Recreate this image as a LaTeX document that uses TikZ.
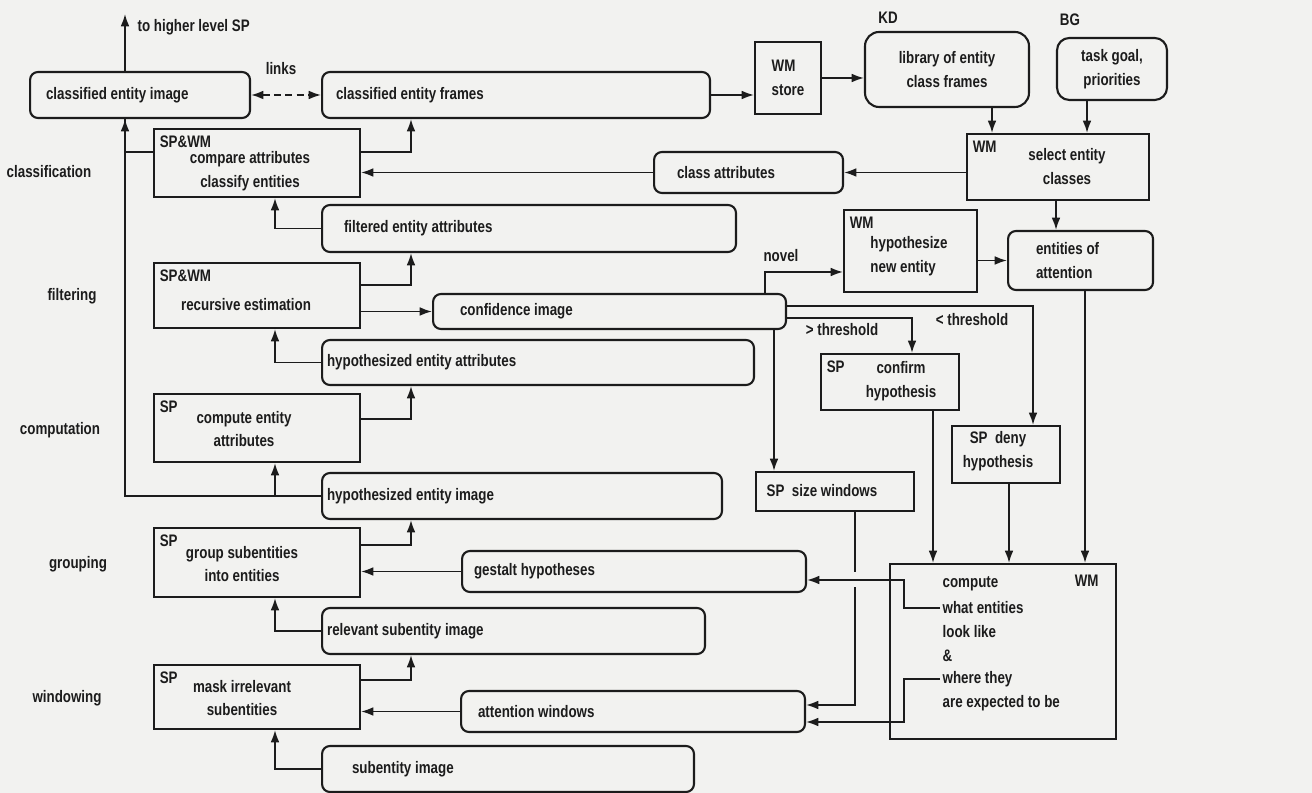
\documentclass[tikz,border=0pt]{standalone}
\usepackage{fontspec}
\setmainfont{Liberation Sans}[FakeStretch=0.8]
\usetikzlibrary{arrows.meta}
\definecolor{paper}{RGB}{242,242,240}
\definecolor{ink}{RGB}{28,28,28}

\begin{document}
\begin{tikzpicture}[x=0.02cm, y=-0.02cm, color=ink, line width=1pt, >={Latex[length=7pt,width=5pt]}]
	\fill[paper] (0,0) rectangle (1312,793);
	\useasboundingbox (0,0) rectangle (1312,793);
	\begin{scope}
	\tikzstyle{every node}=[align=center, inner sep=1pt, font=\fontsize{9.5pt}{13.6pt}\selectfont\bfseries]
	\tikzstyle{rbox}=[draw, line width=1.2pt, rounded corners=4.5pt, anchor=west, align=flush left, minimum height=0.92cm]
	\tikzstyle{pbox}=[draw, line width=1.2pt]
	\tikzstyle{tag}=[anchor=north west, inner xsep=3.4pt, inner ysep=4.2pt]
		\node[rbox, inner xsep=0.32cm, text width=3.76cm] (cimg) at (29,95) {classified entity image};
		\node[rbox, inner xsep=0.28cm, text width=7.2cm] (cfrm) at (321,95) {classified entity frames};
		\node[rbox, anchor=center, align=center, rounded corners=8pt, minimum width=3.28cm, minimum height=1.5cm] (lib) at (947,69.5) {library of entity\\class frames};
		\node[rbox, anchor=center, align=center, rounded corners=7pt, minimum width=2.2cm, minimum height=1.24cm] (task) at (1112,69) {task goal,\\priorities};
		\node[rbox, inner xsep=0.46cm, text width=2.86cm, minimum height=0.82cm] (catt) at (653,172.5) {class attributes};
		\node[rbox, inner xsep=0.44cm, text width=7.4cm, minimum height=0.94cm] (filt) at (321,228.5) {filtered entity attributes};
		\node[rbox, inner xsep=0.54cm, text width=5.98cm, minimum height=0.7cm] (conf) at (432,311.5) {confidence image};
		\node[rbox, inner xsep=0.56cm, text width=1.78cm, minimum height=1.18cm] (eatt) at (1007,260.5) {entities of\\attention};
		\node[rbox, inner xsep=0.1cm, text width=8.44cm, minimum height=0.9cm] (hatt) at (321,362.5) {hypothesized entity attributes};
		\node[rbox, inner xsep=0.1cm, text width=7.8cm] (himg) at (321,496) {hypothesized entity image};
		\node[rbox, inner xsep=0.24cm, text width=6.4cm, minimum height=0.82cm] (gest) at (461,571.5) {gestalt hypotheses};
		\node[rbox, inner xsep=0.1cm, text width=7.46cm] (rimg) at (321,631) {relevant subentity image};
		\node[rbox, inner xsep=0.34cm, text width=6.2cm, minimum height=0.82cm] (attw) at (460,711.5) {attention windows};
		\node[rbox, inner xsep=0.6cm, text width=6.24cm] (simg) at (321,769) {subentity image};

		\node[pbox, align=left, minimum width=1.32cm, minimum height=1.44cm] (store) at (788,78) {WM\\store};
		\node[pbox, minimum width=4.12cm, minimum height=1.36cm] (cmp) at (257,163) {};
		\node[tag] (cmptag) at (cmp.north west) {SP\&WM};
		\node (cmptxt) at (250,171) {compare attributes\\classify entities};
		\node[pbox, minimum width=3.64cm, minimum height=1.32cm] (sel) at (1058,167) {};
		\node[tag] (seltag) at (sel.north west) {WM};
		\node (seltxt) at (1067,166.5) {select entity\\classes};
		\node[pbox, minimum width=2.66cm, minimum height=1.64cm] (hyp) at (910.5,251) {};
		\node[tag] (hyptag) at (hyp.north west) {WM};
		\node[align=left] (hyptxt) at (909,256) {hypothesize\\new entity};
		\node[pbox, minimum width=4.12cm, minimum height=1.3cm] (rec) at (257,295.5) {};
		\node[tag] (rectag) at (rec.north west) {SP\&WM};
		\node (rectxt) at (246,305) {recursive estimation};
		\node[pbox, minimum width=2.76cm, minimum height=1.12cm] (cnf) at (890,382) {};
		\node[tag] (cnftag) at (cnf.north west) {SP};
		\node (cnftxt) at (901,381) {confirm\\hypothesis};
		\node[pbox, minimum width=4.12cm, minimum height=1.36cm] (comp) at (257,428) {};
		\node[tag] (comptag) at (comp.north west) {SP};
		\node (comptxt) at (244,429) {compute entity\\attributes};
		\node[pbox, minimum width=2.16cm, minimum height=1.14cm] (deny) at (1006,454.5) {};
		\node (denytxt) at (998,451) {SP~~deny\\hypothesis};
		\node[pbox, minimum width=3.16cm, minimum height=0.78cm] (size) at (835,491.5) {};
		\node (sizetxt) at (822,491) {SP~~size windows};
		\node[pbox, minimum width=4.12cm, minimum height=1.38cm] (grp) at (257,562.5) {};
		\node[tag] (grptag) at (grp.north west) {SP};
		\node (grptxt) at (242,564) {group subentities\\into entities};
		\node[pbox, minimum width=4.12cm, minimum height=1.28cm] (mask) at (257,697) {};
		\node[tag] (masktag) at (mask.north west) {SP};
		\node (masktxt) at (242,698) {mask irrelevant\\subentities};
		\node[pbox, minimum width=4.52cm, minimum height=3.5cm] (big) at (1003,651.5) {};
		\node[tag, anchor=north east, inner xsep=10pt, inner ysep=6.5pt] (bigtag) at (big.north east) {WM};
		\node[anchor=west] (bl1) at (940,584) {compute};
		\node[anchor=west] (bl2) at (940,608) {what entities};
		\node[anchor=west] (bl3) at (940,632) {look like};
		\node[anchor=west] (bl4) at (940,656) {\&};
		\node[anchor=west] (bl5) at (940,679) {where they};
		\node[anchor=west] (bl6) at (940,703) {are expected to be};

		\node[anchor=west] (hlsp) at (135,27) {to higher level SP};
		\node (lnk) at (281,69) {links};
		\node (kd) at (888,18) {KD};
		\node (bg) at (1070,20) {BG};
		\node (nov) at (781,256) {novel};
		\node (gt) at (842,330) {> threshold};
		\node (lt) at (972,320) {< threshold};
		\node (cls) at (49,172) {classification};
		\node (flt) at (72,296) {filtering};
		\node (cpt) at (60,430) {computation};
		\node (grpg) at (78,564) {grouping};
		\node (wnd) at (67,698) {windowing};

		\coordinate (up) at (125,14);
		\coordinate (xbus) at (125,0);
		\coordinate (xin) at (275,0);
		\coordinate (xup) at (411,0);
		\coordinate (xlib) at (992,0);
		\coordinate (xtask) at (1087,0);
		\coordinate (xeatt) at (1056,0);
		\coordinate (xnov) at (765,0);
		\coordinate (xgt) at (912,0);
		\coordinate (xlt) at (1033,0);
		\coordinate (xsz) at (774,0);
		\coordinate (xcnf) at (933,0);
		\coordinate (xdny) at (1009,0);
		\coordinate (xatt) at (1085,0);
		\coordinate (xsw) at (855,0);
		\coordinate (xwm) at (904,0);
		\coordinate (hin) at ([yshift=-0.42cm]hyp.west);
		\coordinate (gin) at ([yshift=-0.17cm]gest.east);
		\coordinate (ain) at ([yshift=-0.21cm]attw.east);
		\coordinate (sin) at ([yshift=0.13cm]attw.east);
		\coordinate (hop) at (gin -| xsw);

		\draw[->] (cimg.north -| up) -- (up);
		\draw[<->, dash pattern=on 4pt off 2.5pt] (cimg.east) -- (cfrm.west);
		\draw[->] (cfrm.east) -- (cfrm.east -| store.west);
		\draw[->] (store.east) -- (store.east -| lib.west);
		\draw[->] (lib.south -| xlib) -- (sel.north -| xlib);
		\draw[->] (task.south -| xtask) -- (sel.north -| xtask);
		\draw[->] (catt.east -| sel.west) -- (catt.east);
		\draw[->] (catt.west) -- (catt.west -| cmp.east);
		\draw[->] (sel.south -| xeatt) -- (eatt.north -| xeatt);
		\draw[->] (eatt.west -| hyp.east) -- (eatt.west);
		\draw[->] ([yshift=0.22cm]cmp.east) -| (cfrm.south -| xup);
		\draw ([yshift=0.22cm]cmp.west) -| (cimg.south -| xbus);
		\draw[->] (filt.west) -| (cmp.south -| xin);
		\draw[->] ([yshift=0.21cm]rec.east) -| (filt.south -| xup);
		\draw[->] (conf.west -| rec.east) -- (conf.west);
		\draw[->] (hatt.west) -| (rec.south -| xin);
		\draw[->] ([yshift=0.18cm]comp.east) -| (hatt.south -| xup);
		\draw[->] (himg.west) -| (comp.south -| xin);
		\draw[->] (himg.west) -| (cimg.south -| xbus);
		\draw[->] ([yshift=0.35cm]grp.east) -| (himg.south -| xup);
		\draw[->] (gest.west) -- (gest.west -| grp.east);
		\draw[->] (rimg.west) -| (grp.south -| xin);
		\draw[->] ([yshift=0.34cm]mask.east) -| (rimg.south -| xup);
		\draw[->] (attw.west) -- (attw.west -| mask.east);
		\draw[->] (simg.west) -| (mask.south -| xin);

		\draw[->] (conf.north -| xnov) |- (hin);
		\draw[->] ([yshift=-0.13cm]conf.east) -| (cnf.north -| xgt);
		\draw[->] ([yshift=0.11cm]conf.east) -| (deny.north -| xlt);
		\draw[->] (conf.south -| xsz) -- (size.north -| xsz);
		\draw[->] (cnf.south -| xcnf) -- (big.north -| xcnf);
		\draw[->] (deny.south -| xdny) -- (big.north -| xdny);
		\draw[->] (eatt.south -| xatt) -- (big.north -| xatt);
		\draw (size.south -| xsw) -- ([yshift=0.15cm]hop);
		\draw[->] ([yshift=-0.15cm]hop) |- (sin);
		\draw[->] (bl2.west) -| (gin -| xwm) -- (gin);
		\draw[->] (bl5.west) -| (ain -| xwm) -- (ain);
	\end{scope}
\end{tikzpicture}
\end{document}
